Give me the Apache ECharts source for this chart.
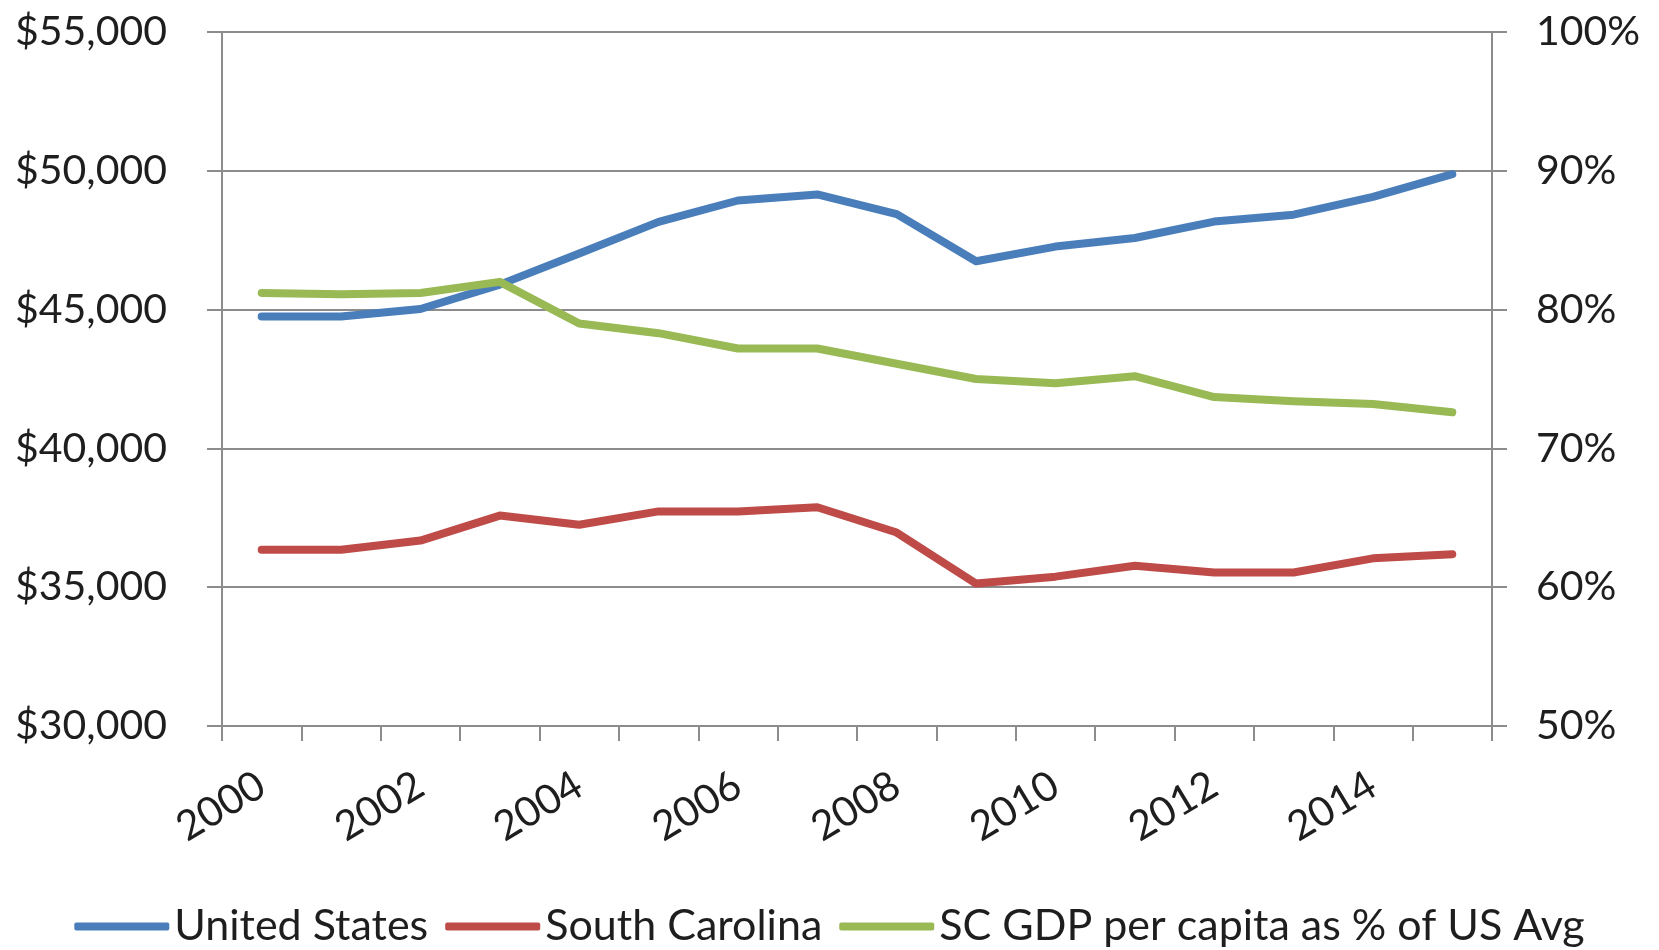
<!DOCTYPE html>
<html>
<head>
<meta charset="utf-8">
<script src="https://cdn.jsdelivr.net/npm/echarts@6/dist/echarts.min.js"></script>
<style>
  html, body { margin: 0; padding: 0; background: #fff; }
  #viz { width: 1659px; height: 950px; }
</style>
</head>
<body>
<div id="viz"></div>
<script>
// GDP per capita, US vs SC, with SC as share of the US average

const years = ['2000', '2001', '2002', '2003', '2004', '2005', '2006', '2007',
    '2008', '2009', '2010', '2011', '2012', '2013', '2014', '2015'];

const unitedStates = [44750, 44750, 45020, 45900, 47020, 48160, 48930, 49150,
    48440, 46740, 47270, 47580, 48170, 48420, 49060, 49880];

const southCarolina = [36350, 36350, 36680, 37580, 37250, 37730, 37730, 37880,
    36970, 35130, 35380, 35770, 35530, 35530, 36040, 36190];

const scShareOfUs = [81.2, 81.1, 81.2, 82.0, 79.0, 78.3, 77.2, 77.2,
    76.1, 75.0, 74.7, 75.2, 73.7, 73.4, 73.2, 72.6];

const leftTicks = { min: 30000, max: 55000, step: 5000 };
const rightTicks = { min: 50, max: 100, step: 10 };

const font = 'Lato, "Noto Sans", sans-serif';
const gray = '#8c8c8c';

function createChart() {
    var myChart = echarts.init(document.getElementById('viz'));

    var lineSeries = function (name, data, color, axisIndex) {
        return {
            name: name,
            type: 'line',
            yAxisIndex: axisIndex,
            data: data,
            showSymbol: false,
            symbol: 'none',
            color: color,
            lineStyle: { width: 8, color: color, cap: 'round', join: 'round' }
        };
    };

    var option = {
        animation: false,
        textStyle: { fontFamily: font },
        grid: { left: 222, right: 167, top: 32, bottom: 224 },
        legend: {
            top: 900,
            left: 'center',
            itemWidth: 95,
            itemHeight: 8,
            itemGap: 17,
            icon: 'roundRect',
            textStyle: { fontSize: 43, color: '#1e1e1e', fontFamily: font },
            data: ['United States', 'South Carolina', 'SC GDP per capita as % of US Avg']
        },
        xAxis: {
            type: 'category',
            data: years,
            boundaryGap: true,
            axisLine: { lineStyle: { color: gray, width: 2 } },
            axisTick: { show: true, interval: 0, length: 15, lineStyle: { color: gray, width: 2 } },
            axisLabel: {
                interval: 1,
                rotate: 31,
                margin: 56,
                fontSize: 41,
                color: '#1e1e1e',
                fontFamily: font
            }
        },
        yAxis: [{
            type: 'value',
            position: 'left',
            min: leftTicks.min,
            max: leftTicks.max,
            interval: leftTicks.step,
            axisLine: { show: true, lineStyle: { color: gray, width: 2 } },
            axisTick: { show: true, length: 15, lineStyle: { color: gray, width: 2 } },
            splitLine: { show: true, lineStyle: { color: gray, width: 2 } },
            axisLabel: {
                margin: 55,
                fontSize: 41,
                color: '#1e1e1e',
                fontFamily: font,
                formatter: function (v) { return '$' + v.toLocaleString('en-US'); }
            }
        }, {
            type: 'value',
            position: 'right',
            min: rightTicks.min,
            max: rightTicks.max,
            interval: rightTicks.step,
            axisLine: { show: true, lineStyle: { color: gray, width: 2 } },
            axisTick: { show: true, length: 15, lineStyle: { color: gray, width: 2 } },
            splitLine: { show: false },
            axisLabel: {
                margin: 44,
                fontSize: 41,
                color: '#1e1e1e',
                fontFamily: font,
                formatter: '{value}%'
            }
        }],
        series: [
            lineSeries('United States', unitedStates, '#4a7ebb', 0),
            lineSeries('South Carolina', southCarolina, '#be4b48', 0),
            lineSeries('SC GDP per capita as % of US Avg', scShareOfUs, '#98b954', 1)
        ]
    };

    myChart.setOption(option);
}

createChart();
</script>
</body>
</html>
